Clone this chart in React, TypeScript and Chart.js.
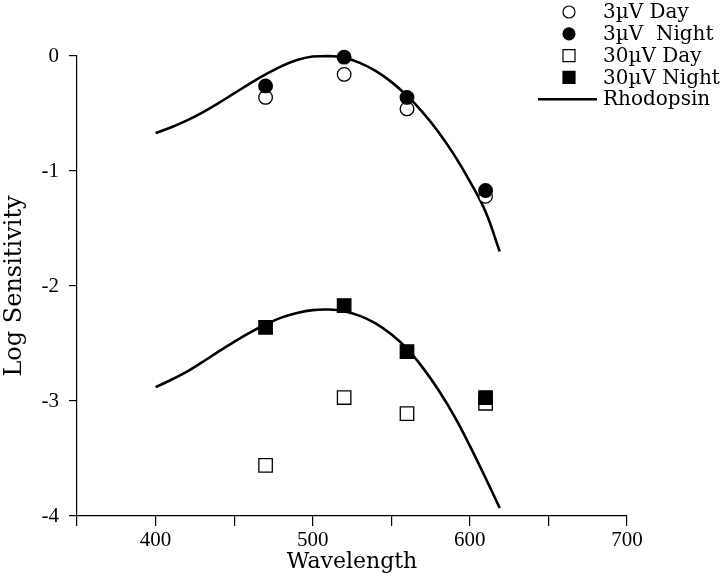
import React, { useEffect, useRef } from "react";
import { Chart, registerables } from "chart.js";

Chart.register(...registerables);

// Measured wavelengths (nm)
const wavelengths = [470, 520, 560, 610];
// Log sensitivity per condition
const day3uV = [-0.36, -0.16, -0.46, -1.22];
const night3uV = [-0.26, -0.01, -0.36, -1.17];
const day30uV = [-3.56, -2.97, -3.11, -3.02];
const night30uV = [-2.36, -2.17, -2.57, -2.97];

// Rhodopsin template curves
const curveWavelengths = [400, 410, 420, 430, 440, 450, 460, 470, 480, 490, 500, 510, 520, 530, 540, 550, 560, 570, 580, 590, 600, 610, 619];
const rhodopsinUpper = [-0.67, -0.62, -0.56, -0.49, -0.41, -0.325, -0.24, -0.16, -0.09, -0.035, -0.005, 0.0, -0.015, -0.06, -0.13, -0.225, -0.345, -0.49, -0.66, -0.86, -1.09, -1.355, -1.7];
const rhodopsinLower = [-2.88, -2.815, -2.745, -2.66, -2.57, -2.485, -2.405, -2.335, -2.275, -2.235, -2.21, -2.205, -2.22, -2.26, -2.325, -2.42, -2.545, -2.71, -2.905, -3.13, -3.39, -3.67, -3.93];

const seriesLabels = ["3\u00B5V Day", "3\u00B5V\u00A0\u00A0Night", "30\u00B5V Day", "30\u00B5V Night", "Rhodopsin"];

const xMin = 350;
const xMax = 700;
const xStep = 50;
const xLabelEvery = 100;
const yMin = -4;
const yMax = 0;
const yStep = 1;

const toPoints = (xs: number[], ys: number[]) => xs.map((x, i) => ({ x, y: ys[i] }));

const legendPlugin = {
  id: "customLegend",
  afterDraw(chart: any) {
    const ctx = chart.ctx;
    const markerX = 569;
    const textX = 603;
    const rowY0 = 12;
    const rowStep = 21.8;
    ctx.save();
    ctx.font = "20px 'DejaVu Serif', serif";
    ctx.textBaseline = "middle";
    ctx.fillStyle = "#000";
    for (let i = 0; i < 5; i++) {
      const y = rowY0 + i * rowStep;
      const ds = chart.data.datasets[i];
      ctx.lineWidth = 1.2;
      ctx.strokeStyle = "#000";
      if (i < 4) {
        ctx.fillStyle = ds.pointBackgroundColor;
        ctx.beginPath();
        if (ds.pointStyle === "circle") {
          ctx.arc(markerX, y, 6, 0, Math.PI * 2);
        } else {
          ctx.rect(markerX - 6, y - 6, 12, 12);
        }
        ctx.fill();
        ctx.stroke();
      } else {
        ctx.lineWidth = 2.5;
        ctx.beginPath();
        ctx.moveTo(538, y);
        ctx.lineTo(597, y);
        ctx.stroke();
      }
      ctx.fillStyle = "#000";
      ctx.fillText(seriesLabels[i], textX, y + 1);
    }
    ctx.restore();
  },
};

export default function App() {
  const canvasRef = useRef<HTMLCanvasElement | null>(null);

  useEffect(() => {
    if (!canvasRef.current) return;
    const pointBase = {
      type: "scatter" as const,
      showLine: false,
      borderColor: "#000",
      pointBorderColor: "#000",
      pointBorderWidth: 1.3,
      clip: false as any,
    };
    const chart = new Chart(canvasRef.current, {
      type: "scatter",
      data: {
        datasets: [
          {
            ...pointBase,
            label: seriesLabels[0],
            data: toPoints(wavelengths, day3uV),
            pointStyle: "circle",
            pointRadius: 6.8,
            pointBackgroundColor: "#fff",
            backgroundColor: "#fff",
            order: 2,
          },
          {
            ...pointBase,
            label: seriesLabels[1],
            data: toPoints(wavelengths, night3uV),
            pointStyle: "circle",
            pointRadius: 6.8,
            pointBackgroundColor: "#000",
            backgroundColor: "#000",
            order: 1,
          },
          {
            ...pointBase,
            label: seriesLabels[2],
            data: toPoints(wavelengths, day30uV),
            pointStyle: "rect",
            pointRadius: 9.5,
            pointBackgroundColor: "#fff",
            backgroundColor: "#fff",
            order: 2,
          },
          {
            ...pointBase,
            label: seriesLabels[3],
            data: toPoints(wavelengths, night30uV),
            pointStyle: "rect",
            pointRadius: 9.5,
            pointBackgroundColor: "#000",
            backgroundColor: "#000",
            order: 1,
          },
          {
            type: "line",
            label: seriesLabels[4],
            data: toPoints(curveWavelengths, rhodopsinUpper),
            borderColor: "#000",
            borderWidth: 2.6,
            pointRadius: 0,
            tension: 0.4,
            fill: false,
            clip: false as any,
            order: 5,
          },
          {
            type: "line",
            label: "Rhodopsin (30\u00B5V)",
            data: toPoints(curveWavelengths, rhodopsinLower),
            borderColor: "#000",
            borderWidth: 2.6,
            pointRadius: 0,
            tension: 0.4,
            fill: false,
            clip: false as any,
            order: 5,
          },
        ] as any,
      },
      options: {
        responsive: false,
        maintainAspectRatio: false,
        animation: false,
        events: [],
        layout: { padding: { top: 56, right: 93, left: 0, bottom: 0 } },
        plugins: {
          legend: { display: false },
          tooltip: { enabled: false },
        },
        scales: {
          x: {
            type: "linear",
            min: xMin,
            max: xMax,
            afterFit: (scale: any) => {
              scale.height = 62;
            },
            afterBuildTicks: (scale: any) => {
              const ticks = [];
              for (let v = xMin; v <= xMax; v += xStep) ticks.push({ value: v });
              scale.ticks = ticks;
            },
            ticks: {
              stepSize: xStep,
              padding: 2,
              color: "#000",
              font: { family: "'Liberation Serif', serif", size: 21 },
              callback: (v: any) => (Number(v) % xLabelEvery === 0 ? String(v) : ""),
            },
            grid: {
              drawOnChartArea: false,
              drawTicks: true,
              tickLength: 10,
              color: "#000",
              lineWidth: 1.2,
            },
            border: { display: true, color: "#000", width: 1.2 },
            title: {
              display: true,
              text: "Wavelength",
              color: "#000",
              font: { family: "'DejaVu Serif', serif", size: 22 },
              padding: { top: 0, bottom: 3 },
            },
          },
          y: {
            type: "linear",
            min: yMin,
            max: yMax,
            afterFit: (scale: any) => {
              scale.width = 77;
            },
            ticks: {
              stepSize: yStep,
              padding: 10,
              color: "#000",
              font: { family: "'Liberation Serif', serif", size: 21 },
            },
            grid: {
              drawOnChartArea: false,
              drawTicks: true,
              tickLength: 8,
              color: "#000",
              lineWidth: 1.2,
            },
            border: { display: true, color: "#000", width: 1.2 },
            title: {
              display: true,
              text: "Log Sensitivity",
              color: "#000",
              font: { family: "'DejaVu Serif', serif", size: 24 },
              padding: { top: 0, bottom: 0 },
            },
          },
        },
      } as any,
      plugins: [legendPlugin],
    });
    return () => chart.destroy();
  }, []);

  return (
    <div style={{ position: "fixed", left: 0, top: 0, width: 720, height: 578, background: "#fff" }}>
      <canvas ref={canvasRef} width={720} height={578} style={{ width: 720, height: 578, display: "block" }} />
    </div>
  );
}
